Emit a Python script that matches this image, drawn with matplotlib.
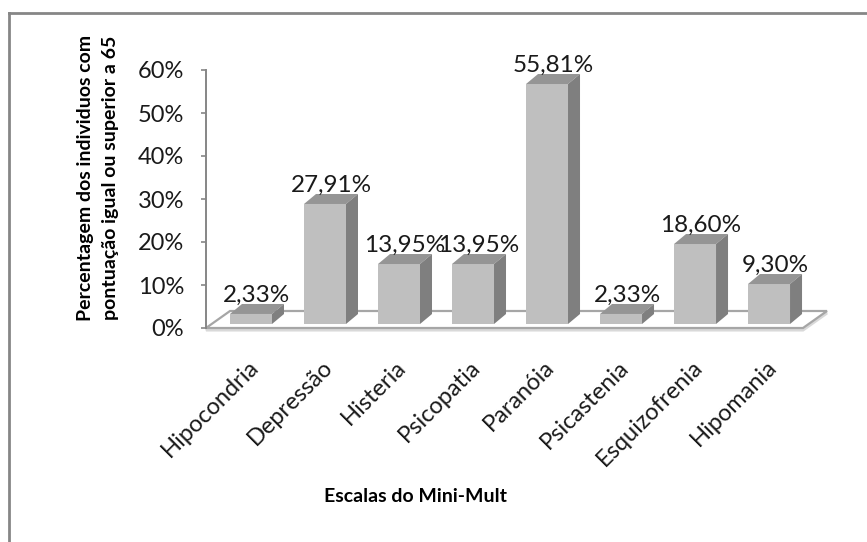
import matplotlib
matplotlib.use("Agg")
import matplotlib.pyplot as plt
from matplotlib.patches import Polygon
from matplotlib.lines import Line2D
from matplotlib.transforms import ScaledTranslation

# Mini-Mult scales and share of individuals scoring >= 65 (percent)
categories = ["Hipocondria", "Depressão", "Histeria", "Psicopatia",
              "Paranóia", "Psicastenia", "Esquizofrenia", "Hipomania"]
values = [2.33, 27.91, 13.95, 13.95, 55.81, 2.33, 18.60, 9.30]
value_labels = ["2,33%", "27,91%", "13,95%", "13,95%",
                "55,81%", "2,33%", "18,60%", "9,30%"]
y_ticks = [0, 10, 20, 30, 40, 50, 60]
y_tick_labels = ["0%", "10%", "20%", "30%", "40%", "50%", "60%"]

FONT = ["Lato", "DejaVu Sans"]
plt.rcParams["font.family"] = FONT

W, H = 867, 542
DPI = 100
fig = plt.figure(figsize=(W / DPI, H / DPI), dpi=DPI)


def px_rect(left, top, right, bottom):
    return [left / W, 1 - bottom / H, (right - left) / W, (bottom - top) / H]


ax = fig.add_axes(px_rect(206, 70, 803, 328))
x_lo, x_hi = -0.608, 7.459
ax.set_xlim(x_lo, x_hi)
ax.set_ylim(0, 60)

# pixel -> data unit factors
ux = (803 - 206) / (x_hi - x_lo)
uy = (328 - 70) / 60.0

# pseudo-3D geometry (pixels)
bar_w = 42 / ux
depth_dx = 12 / ux
depth_dy = 10 / uy
lift = 4 / uy
floor_dx = 24 / ux
floor_dy = 17 / uy

front_col = "#BFBFBF"
top_col = "#959595"
side_col = "#7F7F7F"
edge_gray = "#A6A6A6"
text_col = "#1a1a1a"

# floor with a faint shadow
shadow = Polygon([(x_lo, -0.5), (x_hi, -0.5), (x_hi + floor_dx, floor_dy - 0.5),
                  (x_lo + floor_dx, floor_dy - 0.5)], closed=True,
                 facecolor="none", edgecolor="#D9D9D9", lw=2.0, clip_on=False, zorder=1)
ax.add_patch(shadow)
floor = Polygon([(x_lo, 0), (x_hi, 0), (x_hi + floor_dx, floor_dy), (x_lo + floor_dx, floor_dy)],
                closed=True, facecolor="white", edgecolor=edge_gray, lw=1.6,
                clip_on=False, zorder=2)
ax.add_patch(floor)

xs = list(range(len(categories)))
ax.bar(xs, values, width=bar_w, bottom=lift, color=front_col, edgecolor="none",
       zorder=5, clip_on=False)

for x, v in zip(xs, values):
    top = lift + v
    l, r = x - bar_w / 2, x + bar_w / 2
    ax.add_patch(Polygon([(l, top), (r, top), (r + depth_dx, top + depth_dy),
                          (l + depth_dx, top + depth_dy)], closed=True,
                         facecolor=top_col, edgecolor="none", zorder=5, clip_on=False))
    ax.add_patch(Polygon([(r, lift), (r, top), (r + depth_dx, top + depth_dy),
                          (r + depth_dx, lift + depth_dy)], closed=True,
                         facecolor=side_col, edgecolor="none", zorder=5, clip_on=False))

# value labels above each bar
for x, v, lab in zip(xs, values, value_labels):
    ax.annotate(lab, xy=(x, lift + v), xytext=(6 * 0.72, 12.5 * 0.72),
                textcoords="offset points", ha="center", va="baseline",
                fontsize=17.5, color=text_col, zorder=8, annotation_clip=False)

# axes styling
for s in ["top", "right", "bottom"]:
    ax.spines[s].set_visible(False)
ax.spines["left"].set_color("#868686")
ax.spines["left"].set_linewidth(1.4)
ax.spines["left"].set_zorder(3)
ax.set_yticks(y_ticks)
ax.set_yticklabels(y_tick_labels, fontsize=17, color=text_col)
ax.tick_params(axis="y", length=5 * 0.72, width=1.2, color="#868686", pad=12)
ax.set_xticks([])
ax.patch.set_visible(False)

# rotated category labels
off = ScaledTranslation(4 / DPI, -36 / DPI, fig.dpi_scale_trans)
for x, name in zip(xs, categories):
    ax.text(x, 0, name, transform=ax.get_xaxis_transform() + off,
            rotation=45, rotation_mode="anchor", ha="right", va="center",
            fontsize=17, color=text_col)

# axis titles
fig.text(415 / W, 1 - 497 / H, "Escalas do Mini-Mult", ha="center", va="center",
         fontsize=14, fontweight="bold", color="black")
fig.text(98 / W, 1 - 178 / H,
         "Percentagem dos individuos com\npontuação igual ou superior a 65",
         ha="center", va="center", rotation=90, fontsize=14, fontweight="bold",
         color="black", linespacing=1.55, multialignment="center")

# chart area border (top and left edges)
fig.add_artist(Line2D([8.5 / W, 1.0], [1 - 13 / H, 1 - 13 / H], transform=fig.transFigure,
                      color="#868686", lw=2.0))
fig.add_artist(Line2D([9 / W, 9 / W], [0, 1 - 13 / H], transform=fig.transFigure,
                      color="#868686", lw=2.0))

fig.savefig("out.png", dpi=DPI, facecolor="white")
